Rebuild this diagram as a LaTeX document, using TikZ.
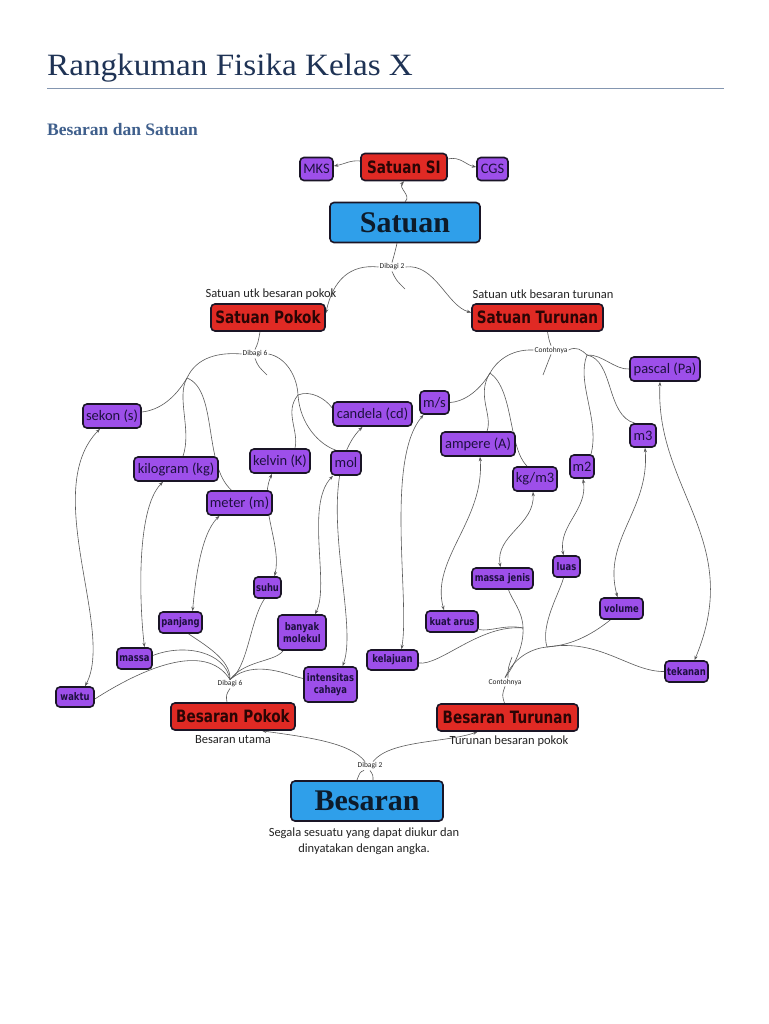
\documentclass[tikz,border=0pt]{standalone}
\usepackage{fontspec}
\setmainfont{Carlito}
\newfontfamily\titlefont{Liberation Serif}[FakeStretch=1.07]
\newfontfamily\headfont{Liberation Serif}
\newfontfamily\condfont{DejaVu Sans}[FakeStretch=0.8]
\usetikzlibrary{arrows.meta,backgrounds}
\definecolor{titleC}{HTML}{1F3355}
\definecolor{ruleC}{HTML}{8496B0}
\definecolor{headC}{HTML}{3F5F8C}
\definecolor{redF}{HTML}{E02A24}
\definecolor{purF}{HTML}{9D4FEA}
\definecolor{bluF}{HTML}{2F9FEA}
\definecolor{edgeC}{HTML}{1A1526}
\definecolor{lineC}{HTML}{5A5A5A}
\definecolor{purT}{HTML}{1E1040}
\definecolor{redT}{HTML}{2A0505}
\definecolor{bluT}{HTML}{0D1B2A}
\definecolor{annT}{HTML}{222222}
\tikzset{
  box/.style={draw=edgeC, line width=1.6pt, rounded corners=4pt, inner sep=0pt, align=center},
  pur/.style={box, fill=purF, text=purT, font=\fontsize{14.5}{15}\selectfont, minimum height=24},
  purlo/.style={box, fill=purF, text=purT, font=\condfont\bfseries\fontsize{10.5}{11.5}\selectfont, minimum height=21},
  redbox/.style={box, fill=redF, text=redT, font=\condfont\bfseries\fontsize{17}{18}\selectfont, minimum height=27},
  blubox/.style={box, fill=bluF, text=bluT, font=\headfont\bfseries\fontsize{30}{30}\selectfont, minimum height=40},
  hub/.style={inner sep=1pt, text=annT, font=\fontsize{7.5}{8}\selectfont},
  ann/.style={inner sep=0pt, text=annT, font=\fontsize{12.5}{16}\selectfont, align=center},
  con/.style={draw=lineC, line width=0.6pt},
  arr/.style={con, -{Stealth[length=4.5pt,width=3.2pt]}},
  both/.style={con, {Stealth[length=4.5pt,width=3.2pt]}-{Stealth[length=4.5pt,width=3.2pt]}}
}
\begin{document}
\begin{tikzpicture}[x=1pt,y=-1pt]
\useasboundingbox (0,0) rectangle (768,1024);
% header
\node[anchor=base west, font=\titlefont\fontsize{31}{31}\selectfont, text=titleC, inner sep=0pt] (title) at (47,76) {Rangkuman Fisika Kelas X};
\draw[ruleC, line width=0.9pt] (47,88) -- (724,88);
\node[anchor=base west, font=\headfont\bfseries\fontsize{17.5}{18}\selectfont, text=headC, inner sep=0pt] (head) at (47,136) {Besaran dan Satuan};

% top part
\node[pur, minimum width=33, minimum height=23] (mks) at (316.5,169) {MKS};
\node[redbox, minimum width=86] (si) at (404,167) {Satuan SI};
\node[pur, minimum width=31, minimum height=23] (cgs) at (492.5,169) {CGS};
\node[blubox, minimum width=150] (satuan) at (405,222.5) {Satuan};
\node[hub] (d2a) at (392,267) {Dibagi 2};
\node[ann] (ann1) at (271,294) {Satuan utk besaran pokok};
\node[redbox, minimum width=114] (spokok) at (268,317.5) {Satuan Pokok};
\node[ann] (ann2) at (543,294) {Satuan utk besaran turunan};
\node[redbox, minimum width=131] (sturunan) at (537.5,317.5) {Satuan Turunan};
\node[hub] (d6a) at (255,354) {Dibagi 6};
\node[hub] (cona) at (551,350) {Contohnya};

% units
\node[pur, minimum width=70] (pascal) at (665,369) {pascal (Pa)};
\node[pur, minimum width=29, minimum height=23] (ms) at (434.5,402.5) {m/s};
\node[pur, minimum width=58] (sekon) at (112,416) {sekon (s)};
\node[pur, minimum width=79] (candela) at (372.5,414) {candela (cd)};
\node[pur, minimum width=26, minimum height=23] (m3) at (643,435.5) {m3};
\node[pur, minimum width=74] (ampere) at (478,444) {ampere (A)};
\node[pur, minimum width=60] (kelvin) at (280,461) {kelvin (K)};
\node[pur, minimum width=30] (mol) at (346,463) {mol};
\node[pur, minimum width=84] (kilogram) at (176,469) {kilogram (kg)};
\node[pur, minimum width=24, minimum height=23] (m2) at (582,466.5) {m2};
\node[pur, minimum width=44] (kgm) at (535,479) {kg/m3};
\node[pur, minimum width=65] (meter) at (239.5,503) {meter (m)};

% quantities
\node[purlo, minimum width=61] (mjenis) at (502.5,578.5) {massa jenis};
\node[purlo, minimum width=27] (luas) at (566.5,566.5) {luas};
\node[purlo, minimum width=27] (suhu) at (267.5,587.5) {suhu};
\node[purlo, minimum width=43] (volume) at (621.5,608.5) {volume};
\node[purlo, minimum width=43] (panjang) at (180.5,622.5) {panjang};
\node[purlo, minimum width=52] (kuat) at (452,621.5) {kuat arus};
\node[purlo, minimum width=48, minimum height=35] (banyak) at (302,632.5) {banyak\\molekul};
\node[purlo, minimum width=35] (massa) at (134.5,658.5) {massa};
\node[purlo, minimum width=51, minimum height=20] (kelajuan) at (392.5,660) {kelajuan};
\node[purlo, minimum width=43] (tekanan) at (686.5,671.5) {tekanan};
\node[purlo, minimum width=53, minimum height=35] (intensitas) at (330.5,684.5) {intensitas\\cahaya};
\node[purlo, minimum width=38, minimum height=20] (waktu) at (75,697) {waktu};

% bottom part
\node[hub] (d6b) at (230,684) {Dibagi 6};
\node[hub] (conb) at (505,682) {Contohnya};
\node[redbox, minimum width=124] (bpokok) at (233,716.5) {Besaran Pokok};
\node[redbox, minimum width=141] (bturunan) at (507.5,717.5) {Besaran Turunan};
\node[ann] (ann3) at (233,740) {Besaran utama};
\node[ann] (ann4) at (509,741) {Turunan besaran pokok};
\node[hub] (d2b) at (370,766) {Dibagi 2};
\node[blubox, minimum width=152] (besaran) at (367,801) {Besaran};
\node[ann] (ann5) at (364,841) {Segala sesuatu yang dapat diukur dan\\dinyatakan dengan angka.};

\coordinate (t1) at (405,289);
\coordinate (t2) at (267,375);
\coordinate (t3) at (543,375);
\coordinate (t4) at (512,657);
\coordinate (t5) at (357,780);
\coordinate (b1) at (187,378);
\coordinate (b2) at (298,395);
\coordinate (b3) at (490,373);
\coordinate (b4) at (587,355);
\coordinate (b5) at (523,628);
\coordinate (b6) at (547,647);

\begin{scope}[on background layer]
\fill[white] (0,0) rectangle (768,1024);
% top
\draw[arr] (satuan.north) .. controls (412,196) and (398,188) .. (si.south);
\draw[arr] ([yshift=6]si.west) .. controls (350,160) and (345,164) .. ([yshift=3]mks.east);
\draw[arr] ([yshift=8]si.east) .. controls (460,156) and (466,165) .. ([yshift=2]cgs.west);
\draw[con] ([xshift=-8]satuan.south) .. controls (395,252) .. (d2a.north);
\draw[con] (d2a.south) .. controls (396,280) .. (t1);
\draw[arr] (d2a.west) .. controls (350,264) and (333,280) .. ([yshift=4]spokok.east);
\draw[arr] (d2a.east) .. controls (435,263) and (447,306) .. ([yshift=5]sturunan.west);
\draw[con] ([xshift=-8]spokok.south) .. controls (258,343) .. (d6a.north);
\draw[con] (d6a.south) .. controls (258,366) .. (t2);
\draw[con] ([xshift=10]sturunan.south) .. controls (549,340) .. (cona.north);
\draw[con] (cona.south) .. controls (548,362) .. (t3);
% dibagi 6 (units)
\draw[con] (d6a.west) .. controls (205,351) and (192,367) .. (b1);
\draw[con] (b1) .. controls (175,398) and (160,410) .. ([yshift=4]sekon.east);
\draw[con] (b1) .. controls (176,397) and (192,430) .. ([xshift=7]kilogram.north);
\draw[con] (b1) .. controls (218,390) and (203,465) .. ([xshift=-8]meter.north);
\draw[con] (d6a.east) .. controls (285,357) and (297,375) .. (b2);
\draw[con] (b2) .. controls (284,412) and (299,430) .. ([xshift=15]kelvin.north);
\draw[con] (b2) .. controls (310,390) and (325,398) .. ([yshift=6]candela.west);
\draw[con] (b2) .. controls (300,425) and (320,445) .. ([xshift=-10]mol.north);
% contohnya (units)
\draw[con] (cona.west) .. controls (510,349) and (496,362) .. (b3);
\draw[con] (b3) .. controls (478,393) and (462,402) .. (ms.east);
\draw[con] (b3) .. controls (476,395) and (493,415) .. ([xshift=9]ampere.north);
\draw[con] (b3) .. controls (514,390) and (508,447) .. ([xshift=-8]kgm.north);
\draw[con] (cona.east) .. controls (576,346) and (582,350) .. (b4);
\draw[con] (b4) .. controls (576,382) and (600,420) .. ([xshift=9]m2.north);
\draw[con] (b4) .. controls (602,354) and (615,370) .. (pascal.west);
\draw[con] (b4) .. controls (614,360) and (606,416) .. ([xshift=-8]m3.north);
% bottom
\draw[con] ([xshift=6]besaran.north) .. controls (373,775) .. (d2b.south);
\draw[con] ([xshift=-6]d2b.south) .. controls (360,772) .. (t5);
\draw[arr] ([xshift=-5]d2b.north) .. controls (350,742) and (305,737) .. ([xshift=29]bpokok.south);
\draw[arr] ([xshift=3]d2b.north) .. controls (390,740) and (445,743) .. ([xshift=-30]bturunan.south);
\draw[con] ([xshift=-6]bpokok.north) .. controls (226,695) .. (d6b.south);
\draw[con] ([xshift=-3]bturunan.north) .. controls (502,695) .. (conb.south);
\draw[con] ([xshift=3]conb.north) .. controls (508,668) .. (t4);
% dibagi 6 (quantities)
\draw[con] (d6b.north) .. controls (231,660) and (205,645) .. ([xshift=8]panjang.south);
\draw[con] (d6b.north) .. controls (225,652) and (185,643) .. ([yshift=3]massa.east);
\draw[con] (d6b.north) .. controls (205,640) and (140,670) .. ([yshift=-2]waktu.east);
\draw[con] (d6b.north) .. controls (248,668) and (250,620) .. ([xshift=-3]suhu.south);
\draw[con] (d6b.north) .. controls (245,660) and (275,662) .. ([xshift=-19]banyak.south);
\draw[con] (d6b.north) .. controls (255,658) and (290,676) .. ([yshift=6]intensitas.west);
% contohnya (quantities)
\draw[con] (conb.north) .. controls (515,665) and (524,645) .. (b5);
\draw[con] (b5) .. controls (505,624) and (490,632) .. ([yshift=-8]kuat.east);
\draw[con] (b5) .. controls (523,612) and (512,600) .. ([xshift=6]mjenis.south);
\draw[con] (b5) .. controls (480,624) and (440,666) .. ([yshift=-3]kelajuan.east);
\draw[con] (conb.north) .. controls (515,655) and (535,648) .. (b6);
\draw[con] (b6) .. controls (540,625) and (560,592) .. ([xshift=-3]luas.south);
\draw[con] (b6) .. controls (575,645) and (595,632) .. ([xshift=-11]volume.south);
\draw[con] (b6) .. controls (600,638) and (630,672) .. (tekanan.west);
% unit <-> quantity
\draw[both] ([xshift=-12]sekon.south) .. controls (40,490) and (115,630) .. ([xshift=10]waktu.north);
\draw[both] ([xshift=-13]kilogram.south) .. controls (135,510) and (140,610) .. ([xshift=10]massa.north);
\draw[both] ([xshift=-20]meter.south) .. controls (200,535) and (195,585) .. ([xshift=12]panjang.north);
\draw[both] ([xshift=-8]kelvin.south) .. controls (258,505) and (282,545) .. ([xshift=7]suhu.north);
\draw[both] ([xshift=-13]mol.south) .. controls (305,505) and (330,585) .. ([xshift=13]banyak.north);
\draw[both] ([xshift=-10]candela.south) .. controls (310,480) and (360,620) .. ([xshift=12]intensitas.north);
\draw[both] ([xshift=-11]ms.south) .. controls (385,460) and (410,600) .. ([xshift=9]kelajuan.north);
\draw[both] ([xshift=2]ampere.south) .. controls (485,520) and (430,560) .. ([xshift=-8]kuat.north);
\draw[both] ([xshift=-2]kgm.south) .. controls (535,525) and (495,535) .. ([xshift=-2]mjenis.north);
\draw[both] ([xshift=1]m2.south) .. controls (588,510) and (558,525) .. ([xshift=-3]luas.north);
\draw[both] ([xshift=2]m3.south) .. controls (650,510) and (602,540) .. ([xshift=-4]volume.north);
\draw[both] ([xshift=-5]pascal.south) .. controls (655,490) and (745,540) .. ([xshift=8]tekanan.north);
\end{scope}
\end{tikzpicture}
\end{document}
